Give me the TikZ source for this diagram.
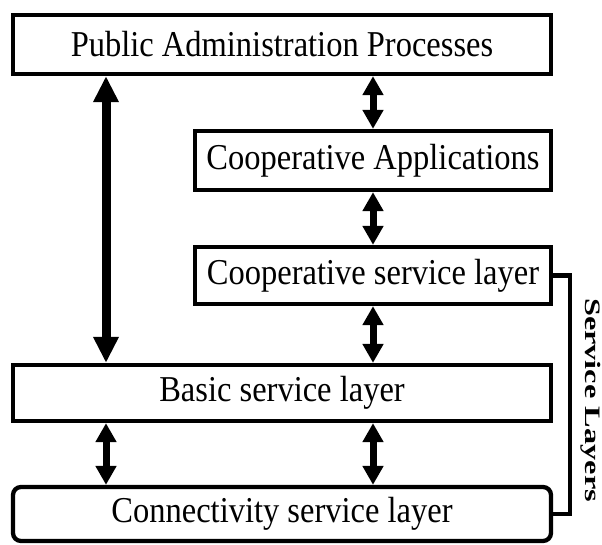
\documentclass[tikz,border=0pt]{standalone}
\usepackage{fontspec}
\setmainfont{Liberation Serif}
\usetikzlibrary{arrows.meta}

% slightly tall lettering as in the figure
\newcommand{\tall}[1]{\scalebox{1}[1.12]{#1}}

\tikzset{
  layer/.style={draw, line width=4.3pt, font=\fontsize{32.5}{34}\selectfont, inner sep=0pt},
  link/.style={line width=7pt, {Triangle[length=19pt,width=20pt]}-{Triangle[length=19pt,width=20pt]}},
  biglink/.style={line width=9pt, {Triangle[length=26pt,width=24pt]}-{Triangle[length=26pt,width=24pt]}}
}

\begin{document}
\begin{tikzpicture}[x=1pt,y=-1pt]
  \useasboundingbox (0,0) rectangle (602,545);
  % layers
  \node[layer, minimum width=538pt, minimum height=59pt] (pap) at (282,44.5) {\tall{Public Administration Processes}};
  \node[layer, minimum width=356pt, minimum height=59pt] (capps) at (373,160.5) {\tall{Cooperative Applications}};
  \node[layer, minimum width=356pt, minimum height=57pt] (csl) at (373,275.5) {\tall{Cooperative service layer}};
  \node[layer, minimum width=538pt, minimum height=56pt] (bsl) at (282,393) {\tall{Basic service layer}};
  \node[layer, rounded corners=8pt, minimum width=538pt, minimum height=54pt] (conn) at (282,514) {\tall{Connectivity service layer}};
  % arrows
  \coordinate (lx) at (106,0);
  \coordinate (rx) at (373,0);
  \draw[biglink] (lx |- pap.south) -- (lx |- bsl.north);
  \draw[link] (rx |- pap.south) -- (rx |- capps.north);
  \draw[link] (rx |- capps.south) -- (rx |- csl.north);
  \draw[link] (rx |- csl.south) -- (rx |- bsl.north);
  \draw[link] (lx |- bsl.south) -- (lx |- conn.north);
  \draw[link] (rx |- bsl.south) -- (rx |- conn.north);
  % bracket
  \draw[line width=4.3pt] (csl.east) -- (570,0 |- csl.east) |- (conn.east);
  \node[rotate=-90, anchor=base, inner sep=0pt, font=\fontsize{22}{24}\selectfont\bfseries] (lbl) at (585,400) {\scalebox{1.47}[1]{Service Layers}};
\end{tikzpicture}
\end{document}
